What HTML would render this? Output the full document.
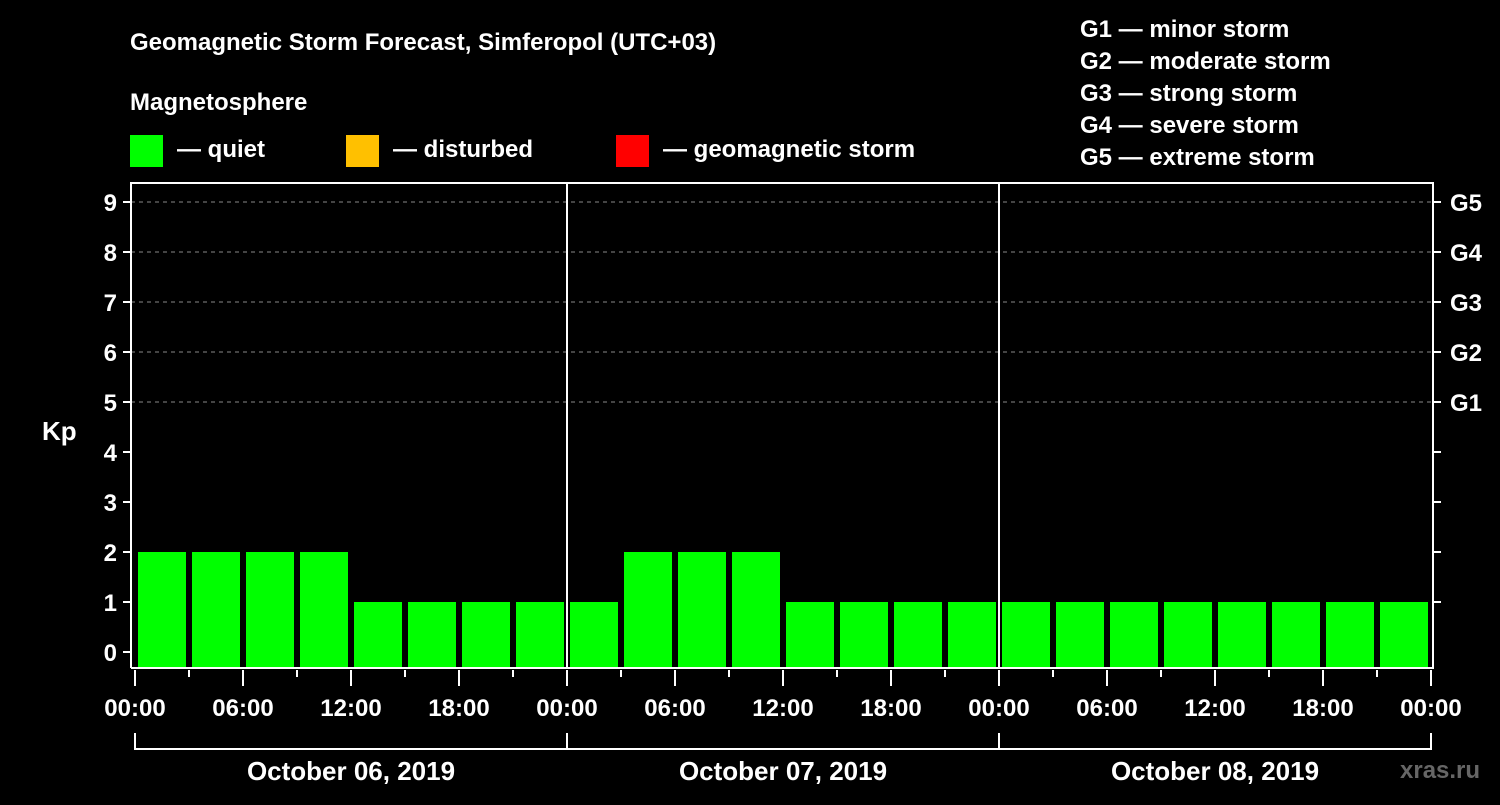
<!DOCTYPE html>
<html><head><meta charset="utf-8"><style>
body{margin:0;background:#000;width:1500px;height:800px;overflow:hidden}
svg text{font-family:"Liberation Sans",Arial,sans-serif;font-weight:bold;fill:#fff}
</style></head><body>
<svg id="chart" width="1500" height="800" xmlns="http://www.w3.org/2000/svg">
<rect width="1500" height="800" fill="#000"/>
<text x="130" y="50" font-size="24">Geomagnetic Storm Forecast, Simferopol (UTC+03)</text>
<text x="130" y="110" font-size="24">Magnetosphere</text>
<g><rect x="130" y="135" width="33" height="32" fill="#00ff00"/><text x="177" y="157" font-size="24">— quiet</text></g>
<g><rect x="346" y="135" width="33" height="32" fill="#ffc000"/><text x="393" y="157" font-size="24">— disturbed</text></g>
<g><rect x="616" y="135" width="33" height="32" fill="#ff0000"/><text x="663" y="157" font-size="24">— geomagnetic storm</text></g>
<g font-size="24">
<text x="1080" y="37">G1 — minor storm</text>
<text x="1080" y="69">G2 — moderate storm</text>
<text x="1080" y="101">G3 — strong storm</text>
<text x="1080" y="133">G4 — severe storm</text>
<text x="1080" y="165">G5 — extreme storm</text>
</g>
<text x="42" y="440" font-size="26">Kp</text>
<text x="1400" y="778" font-size="24" fill="#666" style="fill:#666">xras.ru</text>
<g id="plot"></g>
</svg>
<script>
const kpValues=[2,2,2,2,1,1,1,1,1,2,2,2,1,1,1,1,1,1,1,1,1,1,1,1];
const dayLabels=["October 06, 2019","October 07, 2019","October 08, 2019"];
const hourLabels=["00:00","06:00","12:00","18:00"];
const yTicks=[0,1,2,3,4,5,6,7,8,9];
const gLabels=["G1","G2","G3","G4","G5"];
const NS="http://www.w3.org/2000/svg";
const g=document.getElementById('plot');
const X0=135,DAY=432,L=131,R=1433,T=183,B=668;
const x=h=>X0+h*DAY/24;
const y=v=>652-v*50;
function mk(t,a,txt){const e=document.createElementNS(NS,t);for(const k in a)e.setAttribute(k,a[k]);if(txt!==undefined)e.textContent=txt;g.appendChild(e);return e;}
yTicks.forEach(v=>{
 if(v>=5){const e=mk('line',{x1:L,x2:R,y1:y(v),y2:y(v),stroke:'#888','stroke-dasharray':'4,4','stroke-width':1});
 
 }
 const t=mk('line',{x1:L-8,x2:L,y1:y(v),y2:y(v),stroke:'#fff','stroke-width':2});
 
 
 const lb=mk('text',{x:L-14,y:y(v)+9,'font-size':24,'text-anchor':'end'},v);
 
 
 if(v>=1){const rt=mk('line',{x1:R,x2:R+8,y1:y(v),y2:y(v),stroke:'#fff','stroke-width':2});
 
 }
});
gLabels.forEach((s,i)=>{const t=mk('text',{x:1450,y:y(5+i)+9,'font-size':24},s);
 
 });
kpValues.forEach((v,i)=>{
 const x1=x(i*3)+3,x2=x(i*3+3)-3;
 const c=v>=5?'#ff0000':(v>=4?'#ffc000':'#00ff00');
 const b=mk('rect',{x:x1,y:y(v),width:x2-x1,height:B-y(v),fill:c});
 
 
});
const ax=mk('path',{d:`M${L} ${B}V${T}H${R}V${B}H${L}`,fill:'none',stroke:'#fff','stroke-width':2});


dayLabels.forEach((d,i)=>{
 if(i>0){const s=mk('line',{x1:x(i*24),x2:x(i*24),y1:T,y2:B,stroke:'#fff','stroke-width':2});
 
 }
 const br=mk('path',{d:`M${x(i*24)} 733V749H${x(i*24+24)}V733`,fill:'none',stroke:'#fff','stroke-width':2});
 
 
 const t=mk('text',{x:x(i*24+12),y:780,'font-size':26,'text-anchor':'middle'},d);
 
 
 for(let h=0;h<24;h+=3){
  const maj=h%6===0;
  const tk=mk('line',{x1:x(i*24+h),x2:x(i*24+h),y1:670,y2:maj?686:677,stroke:'#fff','stroke-width':2});
  
  
 }
 hourLabels.forEach((hl,j)=>{const t2=mk('text',{x:x(i*24+j*6),y:716,'font-size':24,'text-anchor':'middle'},hl);
 
 });
});
const et=mk('line',{x1:x(72),x2:x(72),y1:670,y2:686,stroke:'#fff','stroke-width':2});


const el=mk('text',{x:x(72),y:716,'font-size':24,'text-anchor':'middle'},hourLabels[0]);


</script>
</body></html>
